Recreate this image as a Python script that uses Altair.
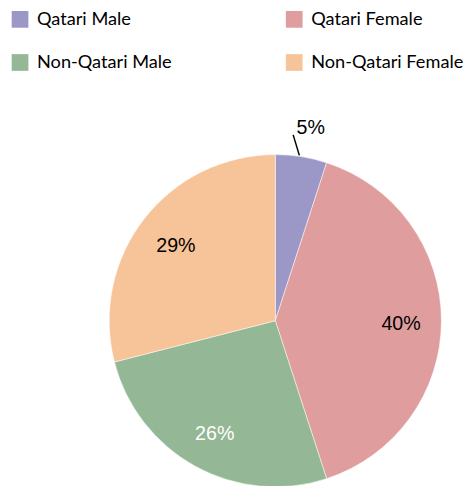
import altair as alt
import pandas as pd

categories = ["Qatari Male", "Qatari Female", "Non-Qatari Male", "Non-Qatari Female"]
values = [5, 40, 26, 29]
colors = ["#9b97c7", "#e09d9e", "#94b795", "#f7c399"]

df = pd.DataFrame({"category": categories, "value": values, "order": list(range(len(categories)))})
df["label"] = [f"{v}%" for v in values]

CX, CY, R = 272, 314, 169

color_scale = alt.Scale(domain=categories, range=colors)

base = alt.Chart(df)

pie = base.mark_arc(outerRadius=R, stroke="white", strokeWidth=0.5).encode(
    theta=alt.Theta("value:Q", stack=True),
    color=alt.Color("category:N", scale=color_scale, sort=categories,
                    legend=alt.Legend(title=None, orient="none", legendX=3, legendY=-2,
                                      columns=2, direction="horizontal")),
    order=alt.Order("order:Q"),
    x=alt.value(CX), y=alt.value(CY),
)

calc = (
    base.transform_window(cum="sum(value)", sort=[alt.SortField("order")])
    .transform_joinaggregate(total="sum(value)")
    .transform_calculate(mid="(datum.cum - datum.value/2)/datum.total*2*PI")
)

inside = calc.transform_filter(alt.datum.value >= 10).transform_calculate(
    px=f"{CX} + 128*sin(datum.mid)", py=f"{CY} - 128*cos(datum.mid)"
).mark_text(font="Liberation Sans", fontSize=20, align="center", baseline="middle", dy=3).encode(
    x=alt.X("px:Q", scale=None), y=alt.Y("py:Q", scale=None), text="label:N",
    color=alt.condition(alt.datum.category == "Non-Qatari Male", alt.value("white"), alt.value("black")),
)

outside = calc.transform_filter(alt.datum.value < 10).transform_calculate(
    px=f"{CX} + 196*sin(datum.mid*1.18)", py=f"{CY} - 196*cos(datum.mid*1.18)"
).mark_text(font="Liberation Sans", fontSize=20, align="center", baseline="middle", color="black", dy=-3).encode(
    x=alt.X("px:Q", scale=None), y=alt.Y("py:Q", scale=None), text="label:N",
)

leader = calc.transform_filter(alt.datum.value < 10).transform_calculate(
    x1=f"{CX} + 170*sin(datum.mid*0.92)", y1=f"{CY} - 170*cos(datum.mid*0.92)",
    x2=f"{CX} + 190*sin(datum.mid*0.61)", y2=f"{CY} - 190*cos(datum.mid*0.61)",
).mark_rule(color="black", strokeWidth=1.5).encode(
    x=alt.X("x1:Q", scale=None), y=alt.Y("y1:Q", scale=None),
    x2="x2:Q", y2="y2:Q",
)

chart = alt.layer(pie, leader, inside, outside).properties(
    width=463, height=478, autosize=alt.AutoSizeParams(type="none"), padding=0
).configure_view(stroke=None).configure_legend(
    symbolType="square", symbolSize=289, symbolStrokeWidth=0,
    labelFont="Lato", labelFontSize=18.5, labelColor="black",
    labelOffset=8, rowPadding=25, columnPadding=115, symbolOpacity=1,
    labelLimit=300,
)

chart.save("out.html", embed_options={"renderer": "svg", "actions": False})
